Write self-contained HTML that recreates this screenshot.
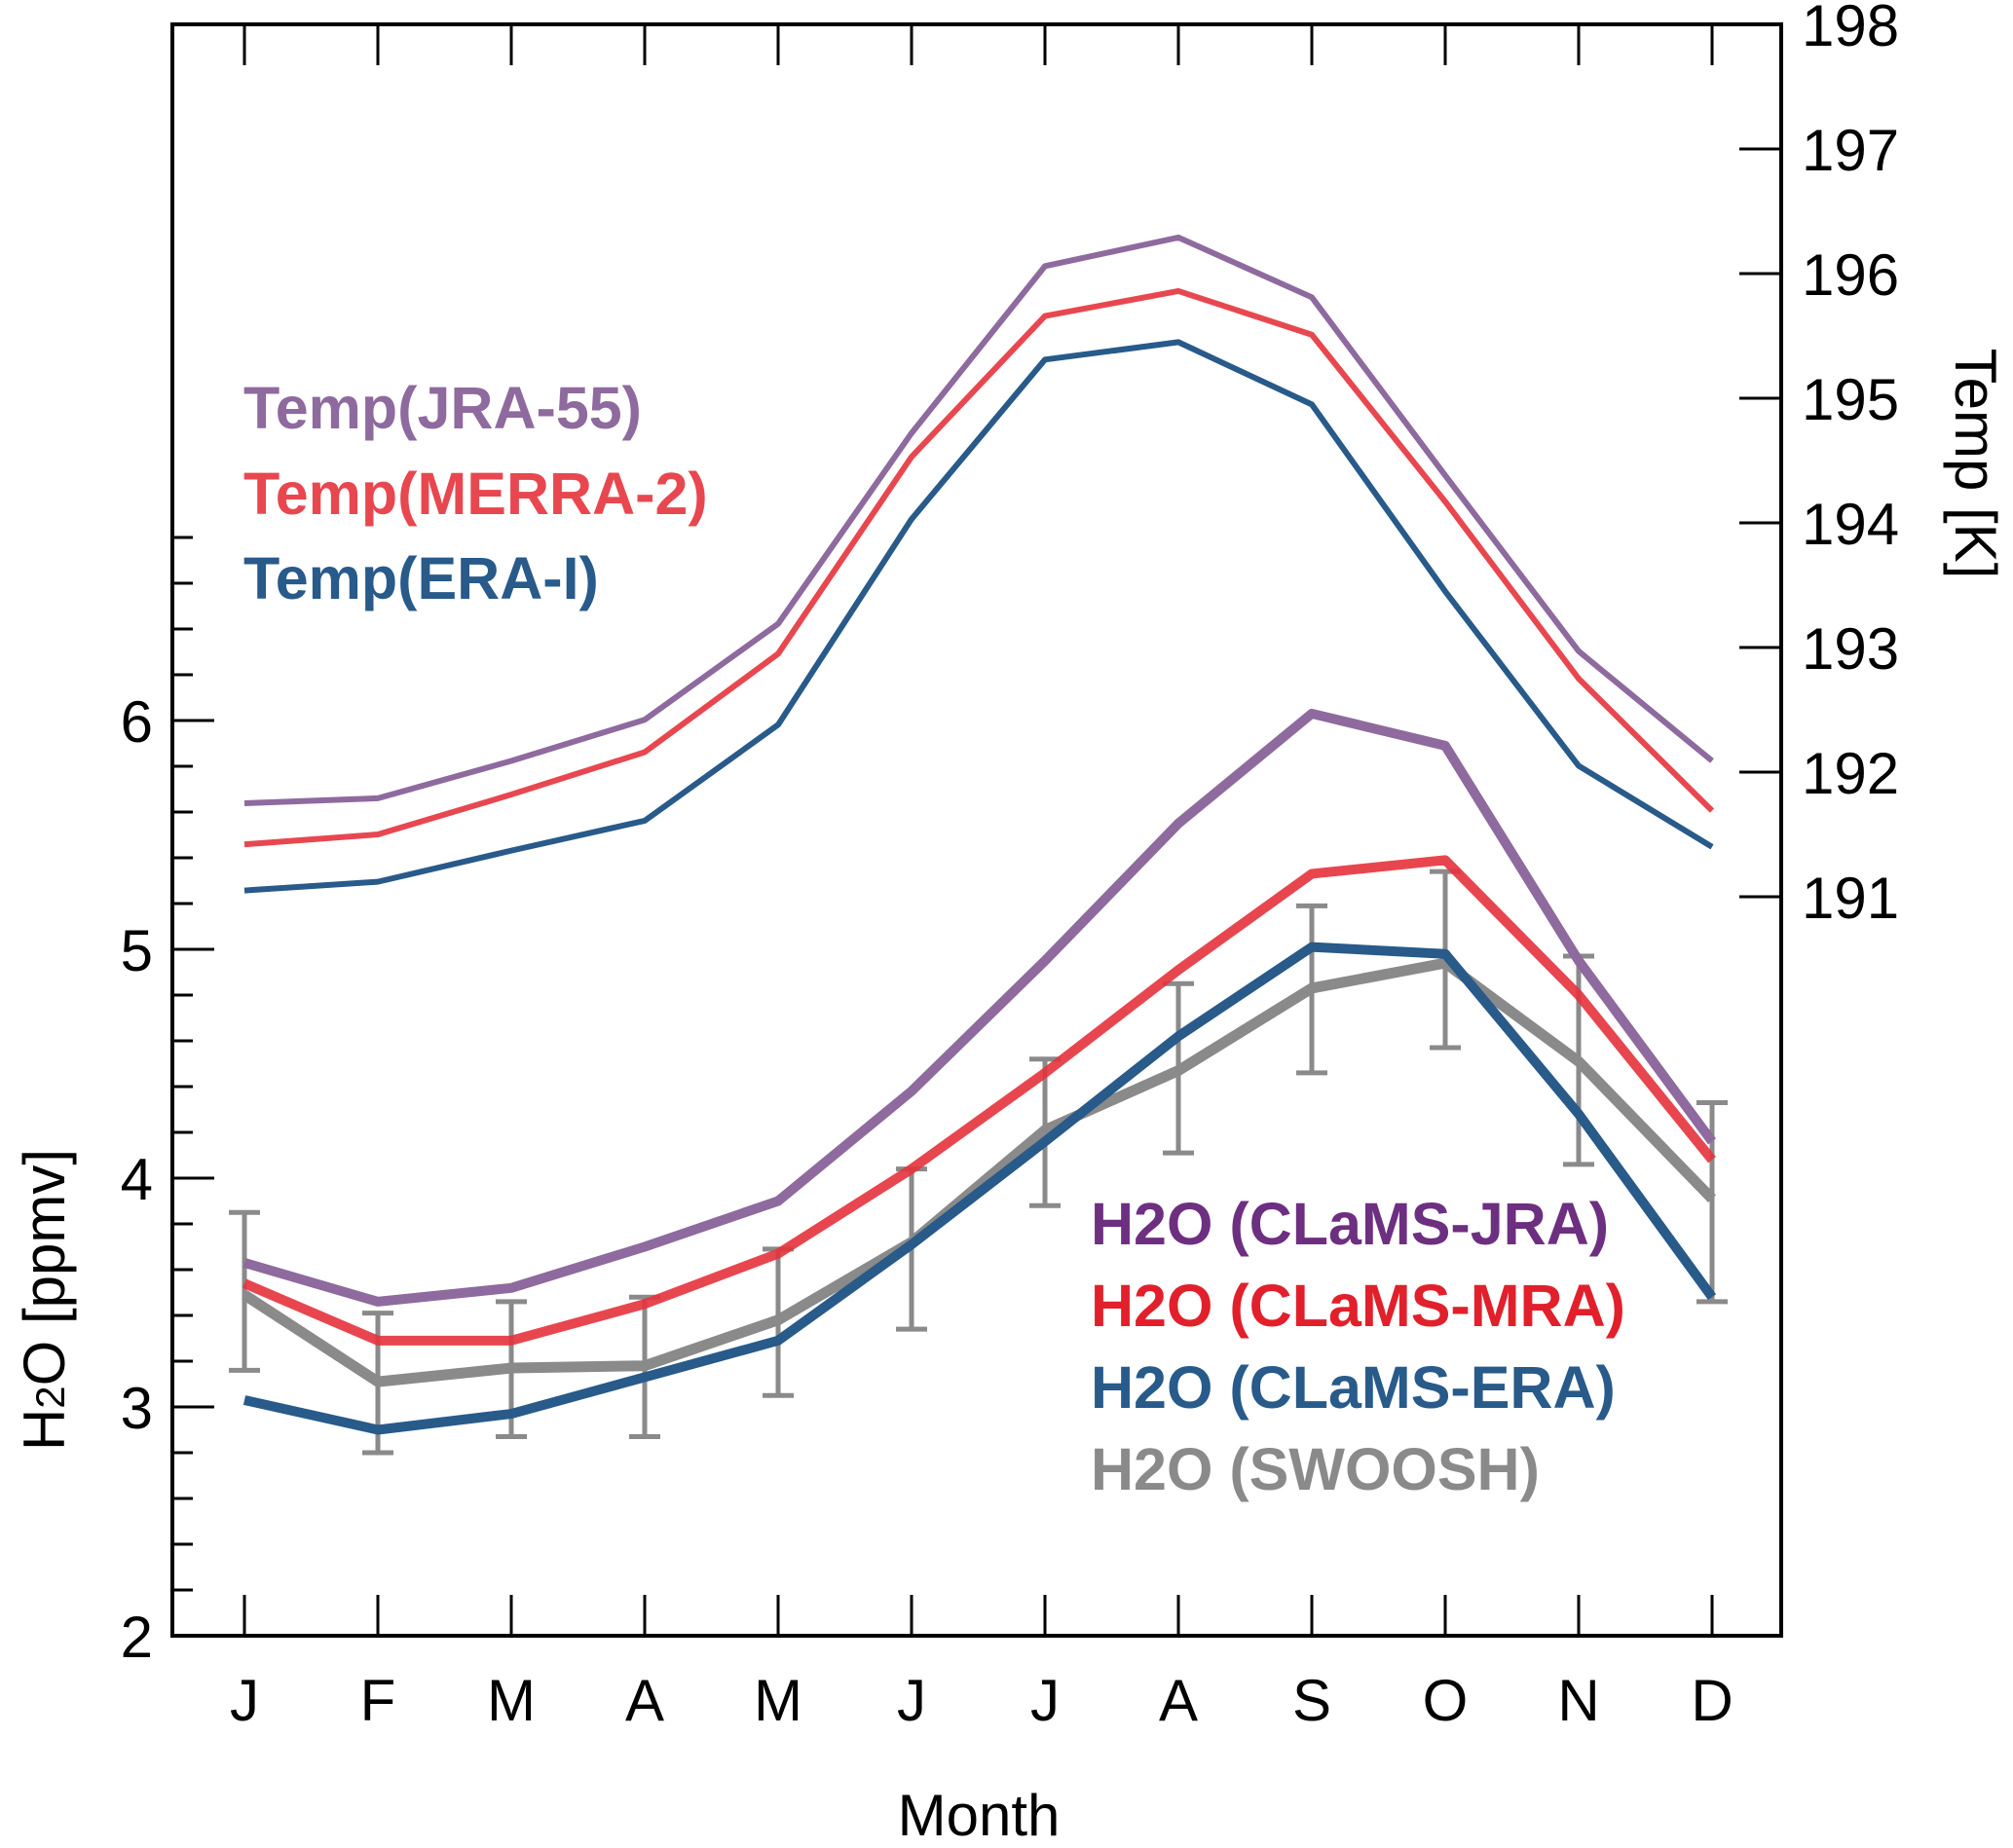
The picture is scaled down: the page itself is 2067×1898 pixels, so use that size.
<!DOCTYPE html>
<html><head><meta charset="utf-8"><style>
html,body{margin:0;padding:0;background:#fff;}
svg{display:block;font-family:"Liberation Sans",sans-serif;}
</style></head><body>
<svg id="chart" width="2067" height="1898" viewBox="0 0 2067 1898" xmlns="http://www.w3.org/2000/svg">
<g id="grid"></g>
<g id="marks"></g>
<g id="legend">
 <text x="250" y="440" font-size="61" font-weight="bold" fill="#8e6a9e">Temp(JRA-55)</text>
 <text x="250" y="528" font-size="61" font-weight="bold" fill="#e8474f">Temp(MERRA-2)</text>
 <text x="250" y="615" font-size="61" font-weight="bold" fill="#285a8a">Temp(ERA-I)</text>
 <text x="1120" y="1278" font-size="61" font-weight="bold" fill="#6d2f80">H2O (CLaMS-JRA)</text>
 <text x="1120" y="1362" font-size="61" font-weight="bold" fill="#e1202c">H2O (CLaMS-MRA)</text>
 <text x="1120" y="1446" font-size="61" font-weight="bold" fill="#285a8a">H2O (CLaMS-ERA)</text>
 <text x="1120" y="1530" font-size="61" font-weight="bold" fill="#8a8a8a">H2O (SWOOSH)</text>
</g>
<text x="1005" y="1885" font-size="60" text-anchor="middle">Month</text>
<text transform="translate(66,1335) rotate(-90)" font-size="60" text-anchor="middle">H<tspan font-size="42">2</tspan>O [ppmv]</text>
<text transform="translate(2008,476) rotate(90)" font-size="60" text-anchor="middle">Temp [K]</text>
</svg>
<script>
const months = ["J","F","M","A","M","J","J","A","S","O","N","D"];
const tempJRA = [191.75,191.79,192.09,192.42,193.19,194.72,196.06,196.29,195.81,194.38,192.97,192.09];
const tempMERRA = [191.42,191.50,191.82,192.16,192.95,194.53,195.66,195.86,195.51,194.17,192.75,191.69];
const tempERA = [191.05,191.12,191.37,191.61,192.38,194.03,195.31,195.45,194.95,193.45,192.05,191.40];
const h2oJRA = [3.63,3.46,3.52,3.70,3.90,4.38,4.95,5.55,6.03,5.89,4.95,4.16];
const h2oMRA = [3.54,3.29,3.29,3.45,3.67,4.04,4.46,4.91,5.33,5.39,4.80,4.08];
const h2oERA = [3.03,2.90,2.97,3.13,3.29,3.71,4.16,4.62,5.01,4.98,4.28,3.48];
const h2oSWOOSH = [3.49,3.11,3.17,3.18,3.38,3.72,4.21,4.47,4.83,4.94,4.51,3.91];
const errTop = [3.85,3.41,3.46,3.48,3.69,4.04,4.52,4.85,5.19,5.34,4.97,4.33];
const errBot = [3.16,2.80,2.87,2.87,3.05,3.34,3.88,4.11,4.46,4.57,4.06,3.46];
const leftTicks = [2,3,4,5,6];
const rightTicks = [191,192,193,194,195,196,197,198];

const NS="http://www.w3.org/2000/svg";
const L=177,R=1829,T=25,B=1680;
const xS=i=>251+i*137;
const yL=v=>1680-(v-2)*235;
const yR=t=>25+(198-t)*128;
const grid=document.getElementById('grid'), marks=document.getElementById('marks');
function mk(tag,attrs,parent){const e=document.createElementNS(NS,tag);for(const k in attrs)e.setAttribute(k,attrs[k]);parent.appendChild(e);return e;}

let f=mk('path',{d:`M${L},${T}H${R}V${B}H${L}Z`,fill:'none',stroke:'#000','stroke-width':4},grid);


months.forEach((m,i)=>{
  const x=xS(i);
  mk('line',{x1:x,x2:x,y1:B,y2:B-42,stroke:'#000','stroke-width':3},grid);
  mk('line',{x1:x,x2:x,y1:T,y2:T+42,stroke:'#000','stroke-width':3},grid);
  const t=mk('text',{x:x,y:1767,'font-size':60,'text-anchor':'middle'},grid);
  t.textContent=m;
  
  
});
for(let v=2;v<=6.85;v+=0.2){
  const y=yL(v);const major=Math.abs(v-Math.round(v))<0.01;
  mk('line',{x1:L,x2:L+(major?43:21),y1:y,y2:y,stroke:'#000','stroke-width':3},grid);
}
leftTicks.forEach(v=>{
  const t=mk('text',{x:157,y:yL(v)+22,'font-size':60,'text-anchor':'end'},grid);
  t.textContent=v;
  
  
});
rightTicks.forEach(v=>{
  const y=yR(v);
  mk('line',{x1:R,x2:R-43,y1:y,y2:y,stroke:'#000','stroke-width':3},grid);
  const t=mk('text',{x:1850,y:y+22,'font-size':60},grid);
  t.textContent=v;
  
  
});
function line(data,scale,color,w,name){
  const p=mk('polyline',{points:data.map((v,i)=>xS(i)+','+scale(v)).join(' '),fill:'none',stroke:color,'stroke-width':w,'stroke-linejoin':'round'},marks);
  
  
}
errTop.forEach((v,i)=>{
  const x=xS(i);
  const g=mk('g',{stroke:'#8a8a8a','stroke-width':5},marks);
  
  
  mk('line',{x1:x,x2:x,y1:yL(v),y2:yL(errBot[i])},g);
  mk('line',{x1:x-16,x2:x+16,y1:yL(v),y2:yL(v)},g);
  mk('line',{x1:x-16,x2:x+16,y1:yL(errBot[i]),y2:yL(errBot[i])},g);
});
line(h2oSWOOSH,yL,'#8a8a8a',11,'line-h2o-swoosh');
line(h2oERA,yL,'#285a8a',10,'line-h2o-clams-era');
line(h2oMRA,yL,'rgba(230,50,60,0.9)',10,'line-h2o-clams-mra');
line(h2oJRA,yL,'#8e6a9e',10,'line-h2o-clams-jra');
line(tempJRA,yR,'#8e6a9e',6,'line-temp-jra55');
line(tempMERRA,yR,'#e8474f',6,'line-temp-merra2');
line(tempERA,yR,'#285a8a',6,'line-temp-erai');
</script>
</body></html>
